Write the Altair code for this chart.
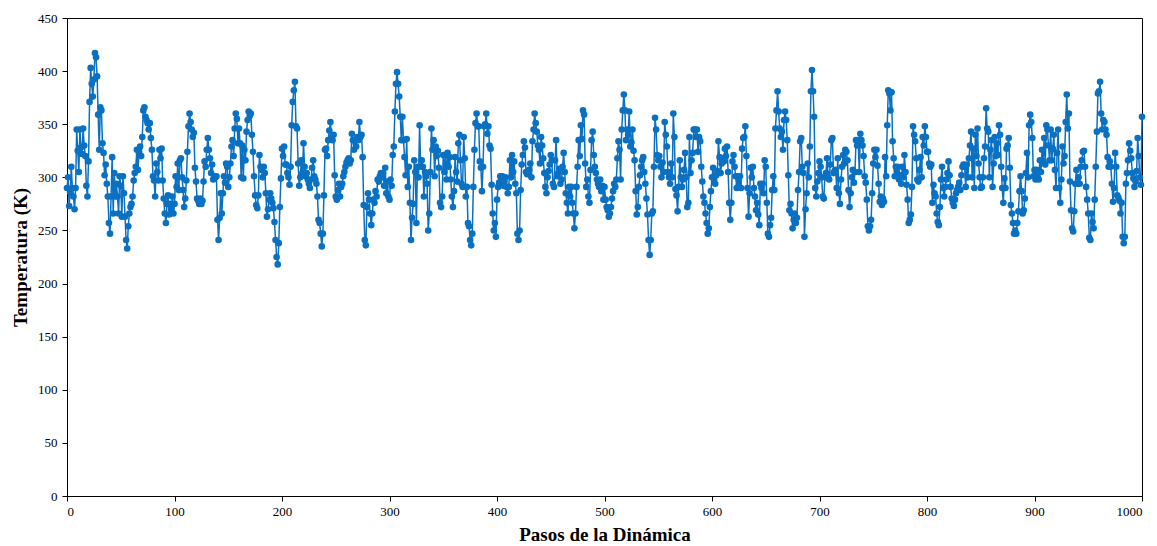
import altair as alt
import pandas as pd

temperatura = [
    290,300,273,286,310,290,282,270,290,345,
    325,305,345,328,322,346,330,320,292,282,
    315,371,403,388,376,392,417,413,395,359,
    326,366,363,332,323,302,312,294,282,257,
    247,282,319,266,304,282,294,282,266,301,
    292,263,301,285,263,241,233,254,266,272,
    275,282,297,304,310,326,307,323,329,320,
    338,363,366,357,354,351,345,351,337,326,
    301,297,282,313,305,297,326,318,327,297,
    280,266,257,275,283,265,275,270,282,266,
    275,301,291,313,288,316,318,300,288,272,
    280,297,324,348,360,352,345,338,342,309,
    296,280,278,275,280,275,278,296,315,310,
    326,337,326,318,304,312,298,301,300,301,
    260,241,262,285,266,285,301,295,313,310,
    291,300,313,329,335,320,346,360,355,332,
    346,332,300,330,299,326,316,343,354,362,
    358,360,340,324,301,283,274,271,283,321,
    310,307,300,310,304,285,263,270,279,285,
    280,276,271,258,241,225,218,238,272,299,
    327,320,329,312,312,304,300,293,310,349,
    371,382,390,348,346,313,292,300,316,304,
    332,310,301,304,298,294,290,298,309,316,
    301,298,294,282,260,257,247,235,247,283,
    326,327,320,335,344,352,338,335,340,302,
    282,279,288,294,282,291,294,301,305,310,
    314,316,318,313,316,341,335,326,335,329,
    338,335,352,338,340,319,274,241,236,272,
    285,279,266,255,266,279,276,287,282,298,
    296,301,304,300,304,292,309,285,296,282,
    279,298,292,321,329,362,388,399,388,376,
    357,335,357,335,319,302,336,291,310,276,
    241,262,275,316,305,257,310,300,349,310,
    316,310,282,305,301,294,250,266,305,346,
    326,335,301,329,320,325,309,276,272,282,
    321,305,321,298,323,310,319,298,282,272,
    287,319,305,296,332,340,316,294,291,338,
    318,282,291,257,254,241,236,247,291,326,
    351,360,348,348,315,309,287,310,348,350,
    360,341,348,330,327,293,266,250,257,244,
    279,291,295,301,298,301,292,296,300,291,
    285,291,316,300,321,305,315,294,285,247,
    241,250,288,312,321,334,328,305,303,304,
    307,313,300,334,345,360,351,343,330,326,
    313,338,330,318,304,291,285,300,306,312,
    321,316,294,291,316,335,301,304,308,294,
    298,310,323,305,285,276,266,291,282,291,
    276,266,252,266,291,310,335,320,349,336,
    363,359,313,291,298,282,276,307,335,343,
    321,310,304,298,294,291,298,287,292,279,
    291,279,272,269,263,266,272,280,287,294,
    291,298,318,334,326,298,345,363,378,363,
    335,345,340,362,329,333,345,325,316,287,
    265,272,291,302,310,316,319,305,294,280,
    265,241,227,241,266,268,310,356,345,321,
    316,320,310,300,314,305,352,340,329,305,
    300,294,313,300,360,338,289,283,268,291,
    316,300,291,298,307,323,300,272,276,338,
    304,316,323,345,345,338,345,324,338,334,
    310,296,282,276,266,257,247,252,272,287,
    300,309,298,294,302,306,334,319,304,313,
    318,315,327,320,329,305,276,260,276,315,
    321,310,301,290,301,292,301,290,327,337,
    338,348,320,290,263,285,309,300,310,290,
    282,269,276,265,255,294,290,294,285,316,
    310,276,247,244,255,262,288,301,288,346,
    363,381,362,346,338,343,326,354,362,354,
    335,302,269,275,266,252,260,266,257,262,
    288,305,334,337,310,304,244,270,285,313,
    300,329,381,401,381,357,290,282,296,304,
    315,310,300,282,280,300,304,318,300,298,
    312,335,337,304,306,307,290,318,285,275,
    298,310,321,313,326,324,316,288,272,285,
    300,307,295,305,335,330,335,305,341,335,
    330,320,301,295,279,254,250,254,260,285,
    313,326,319,326,311,294,277,282,274,280,
    277,319,301,349,382,379,363,380,334,318,
    301,310,306,310,298,302,294,310,300,321,
    305,293,279,257,260,265,291,348,340,334,
    318,298,296,307,319,300,338,330,348,338,
    324,324,313,310,312,276,293,285,282,266,
    258,255,272,298,310,290,282,291,298,304,
    315,302,291,280,276,273,279,285,288,291,
    295,288,302,310,312,310,291,312,300,318,
    330,343,300,327,290,340,320,346,313,300,
    290,291,300,318,329,365,346,343,300,326,
    335,291,313,338,320,332,321,349,340,310,
    290,276,299,290,327,330,337,309,274,266,
    257,247,250,247,257,268,287,301,287,266,
    269,280,304,323,300,349,359,352,337,301,
    307,298,307,300,298,316,305,326,315,337,
    312,349,345,330,316,345,316,327,340,307,
    290,323,345,290,276,298,329,313,320,352,
    378,346,360,296,269,252,249,268,294,307,
    294,300,294,310,316,324,325,310,291,279,
    266,243,241,266,258,252,279,310,343,379,
    381,390,360,345,354,352,345,340,319,310,
    315,310,294,277,290,323,310,283,281,278,
    266,276,244,238,244,294,304,316,332,325,
    318,304,299,291,296,306,337,320,300,293,
    357,
]
pasos = list(range(len(temperatura)))
x_ticks = [0, 100, 200, 300, 400, 500, 600, 700, 800, 900, 1000]
y_ticks = [0, 50, 100, 150, 200, 250, 300, 350, 400, 450]

df = pd.DataFrame({"paso": pasos, "temp": temperatura})

color = "#0a70c2"
font = "Liberation Serif"

x_enc = alt.X("paso:Q", scale=alt.Scale(domain=[0, 1000], nice=False),
              axis=alt.Axis(values=x_ticks, title="Pasos de la Dinámica", grid=False,
                            domainColor="black", tickColor="black", tickSize=5,
                            labelFont=font, labelFontSize=13, labelColor="black", labelPadding=4,
                            titleFont=font, titleFontSize=19, titleFontWeight="bold",
                            titleColor="black", titlePadding=7, format="d"))
y_enc = alt.Y("temp:Q", scale=alt.Scale(domain=[0, 450], nice=False),
              axis=alt.Axis(values=y_ticks, title="Temperatura  (K)", grid=False,
                            domainColor="black", tickColor="black", tickSize=5,
                            labelFont=font, labelFontSize=13, labelColor="black", labelPadding=5,
                            titleFont=font, titleFontSize=19, titleFontWeight="bold",
                            titleColor="black", titlePadding=7, format="d"))

line = alt.Chart(df).mark_line(color=color, strokeWidth=1.5).encode(x=x_enc, y=y_enc)
pts = alt.Chart(df).mark_circle(color=color, size=44, opacity=1).encode(x=x_enc, y=y_enc)

chart = (line + pts).properties(
    width=1075, height=478,
    background="white",
    padding={"left": 3, "top": 4, "right": 0, "bottom": 0},
).configure_view(stroke="black", strokeWidth=1)

chart.save("out.html", embed_options={"renderer": "svg", "actions": False})
